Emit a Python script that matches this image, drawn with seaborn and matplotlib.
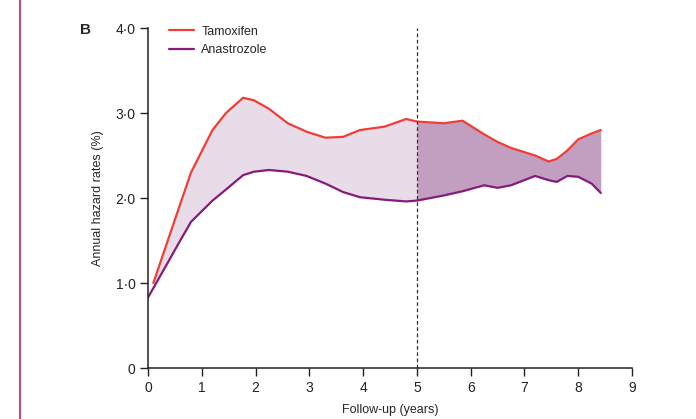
import matplotlib
matplotlib.use("Agg")
import matplotlib.pyplot as plt
from matplotlib.lines import Line2D
import numpy as np
import pandas as pd
import seaborn as sns

# Valeurs (taux de risque annuel, %)
years = [0.1, 0.6, 0.8, 1.2, 1.45, 1.77, 1.97, 2.25, 2.6, 2.95, 3.3, 3.63, 3.94,
         4.4, 4.8, 5.0, 5.5, 5.85, 6.25, 6.5, 6.75, 7.2, 7.45, 7.6, 7.8, 8.0,
         8.25, 8.42]
tamoxifen = [1.0, 1.93, 2.3, 2.8, 3.0, 3.18, 3.15, 3.05, 2.88, 2.78, 2.71, 2.72,
             2.8, 2.84, 2.93, 2.9, 2.88, 2.91, 2.75, 2.66, 2.59, 2.5, 2.43, 2.46,
             2.56, 2.69, 2.76, 2.80]
anastrozole = [0.94, 1.5, 1.72, 1.97, 2.1, 2.27, 2.31, 2.33, 2.31, 2.26, 2.17,
               2.07, 2.01, 1.98, 1.96, 1.97, 2.03, 2.08, 2.15, 2.12, 2.15, 2.26,
               2.21, 2.19, 2.26, 2.25, 2.17, 2.06]
ana_start_year = 0.0
ana_start_value = 0.83
cutoff_year = 5

xticks = list(range(0, 10))
yticks = [0, 1, 2, 3, 4]
ytick_labels = ["0", "1·0", "2·0", "3·0", "4·0"]

RED = '#ef3e36'
PURPLE = '#871a7d'
FILL_LIGHT = '#e8dce9'
FILL_DARK = '#c29fc1'

sns.set_style('ticks')
plt.rcParams['font.family'] = ['Liberation Sans', 'DejaVu Sans']

df = pd.DataFrame({'year': years, 'tam': tamoxifen, 'ana': anastrozole})
df_ana = pd.concat([pd.DataFrame({'year': [ana_start_year], 'ana': [ana_start_value]}),
                    df[['year', 'ana']]], ignore_index=True)

fig = plt.figure(figsize=(6.96, 4.19), dpi=100)
ax = fig.add_axes([0.2126, 0.1217, 0.6954, 0.8113])

x = np.array(years)
before = x <= cutoff_year
after = x >= cutoff_year
ax.fill_between(x[before], np.array(anastrozole)[before], np.array(tamoxifen)[before],
                color=FILL_LIGHT, lw=0)
ax.fill_between(x[after], np.array(anastrozole)[after], np.array(tamoxifen)[after],
                color=FILL_DARK, lw=0)

sns.lineplot(data=df, x='year', y='tam', ax=ax, color=RED, lw=1.6, label='Tamoxifen')
sns.lineplot(data=df_ana, x='year', y='ana', ax=ax, color=PURPLE, lw=1.6, label='Anastrozole')

ax.plot([cutoff_year, cutoff_year], [0, 4], ls=(0, (3, 2)), color='#333333', lw=0.9)

ax.set_xlim(0, 9)
ax.set_ylim(0, 4)
ax.set_xticks(xticks)
ax.set_yticks(yticks)
ax.set_yticklabels(ytick_labels)
ax.tick_params(direction='out', length=6, width=1, labelsize=10, colors='#222222', pad=3)
for s in ['left', 'bottom']:
    ax.spines[s].set_linewidth(1.1)
    ax.spines[s].set_color('#222222')
sns.despine(ax=ax)

ax.set_xlabel("Follow-up (years)", fontsize=9, labelpad=7)
ax.set_ylabel("Annual hazard rates (%)", fontsize=9, labelpad=8)

leg = ax.legend(loc='upper left', bbox_to_anchor=(0.02, 1.04), frameon=False,
                fontsize=9, handlelength=2.0, handletextpad=0.6, labelspacing=0.5)

fig.text(80 / 696, 1 - 30 / 419, "B", fontsize=11, fontweight='bold', va='center')
fig.add_artist(Line2D([20 / 696, 20 / 696], [0, 1], color='#c0284a', lw=1.2))

fig.savefig("out.png", dpi=100)
